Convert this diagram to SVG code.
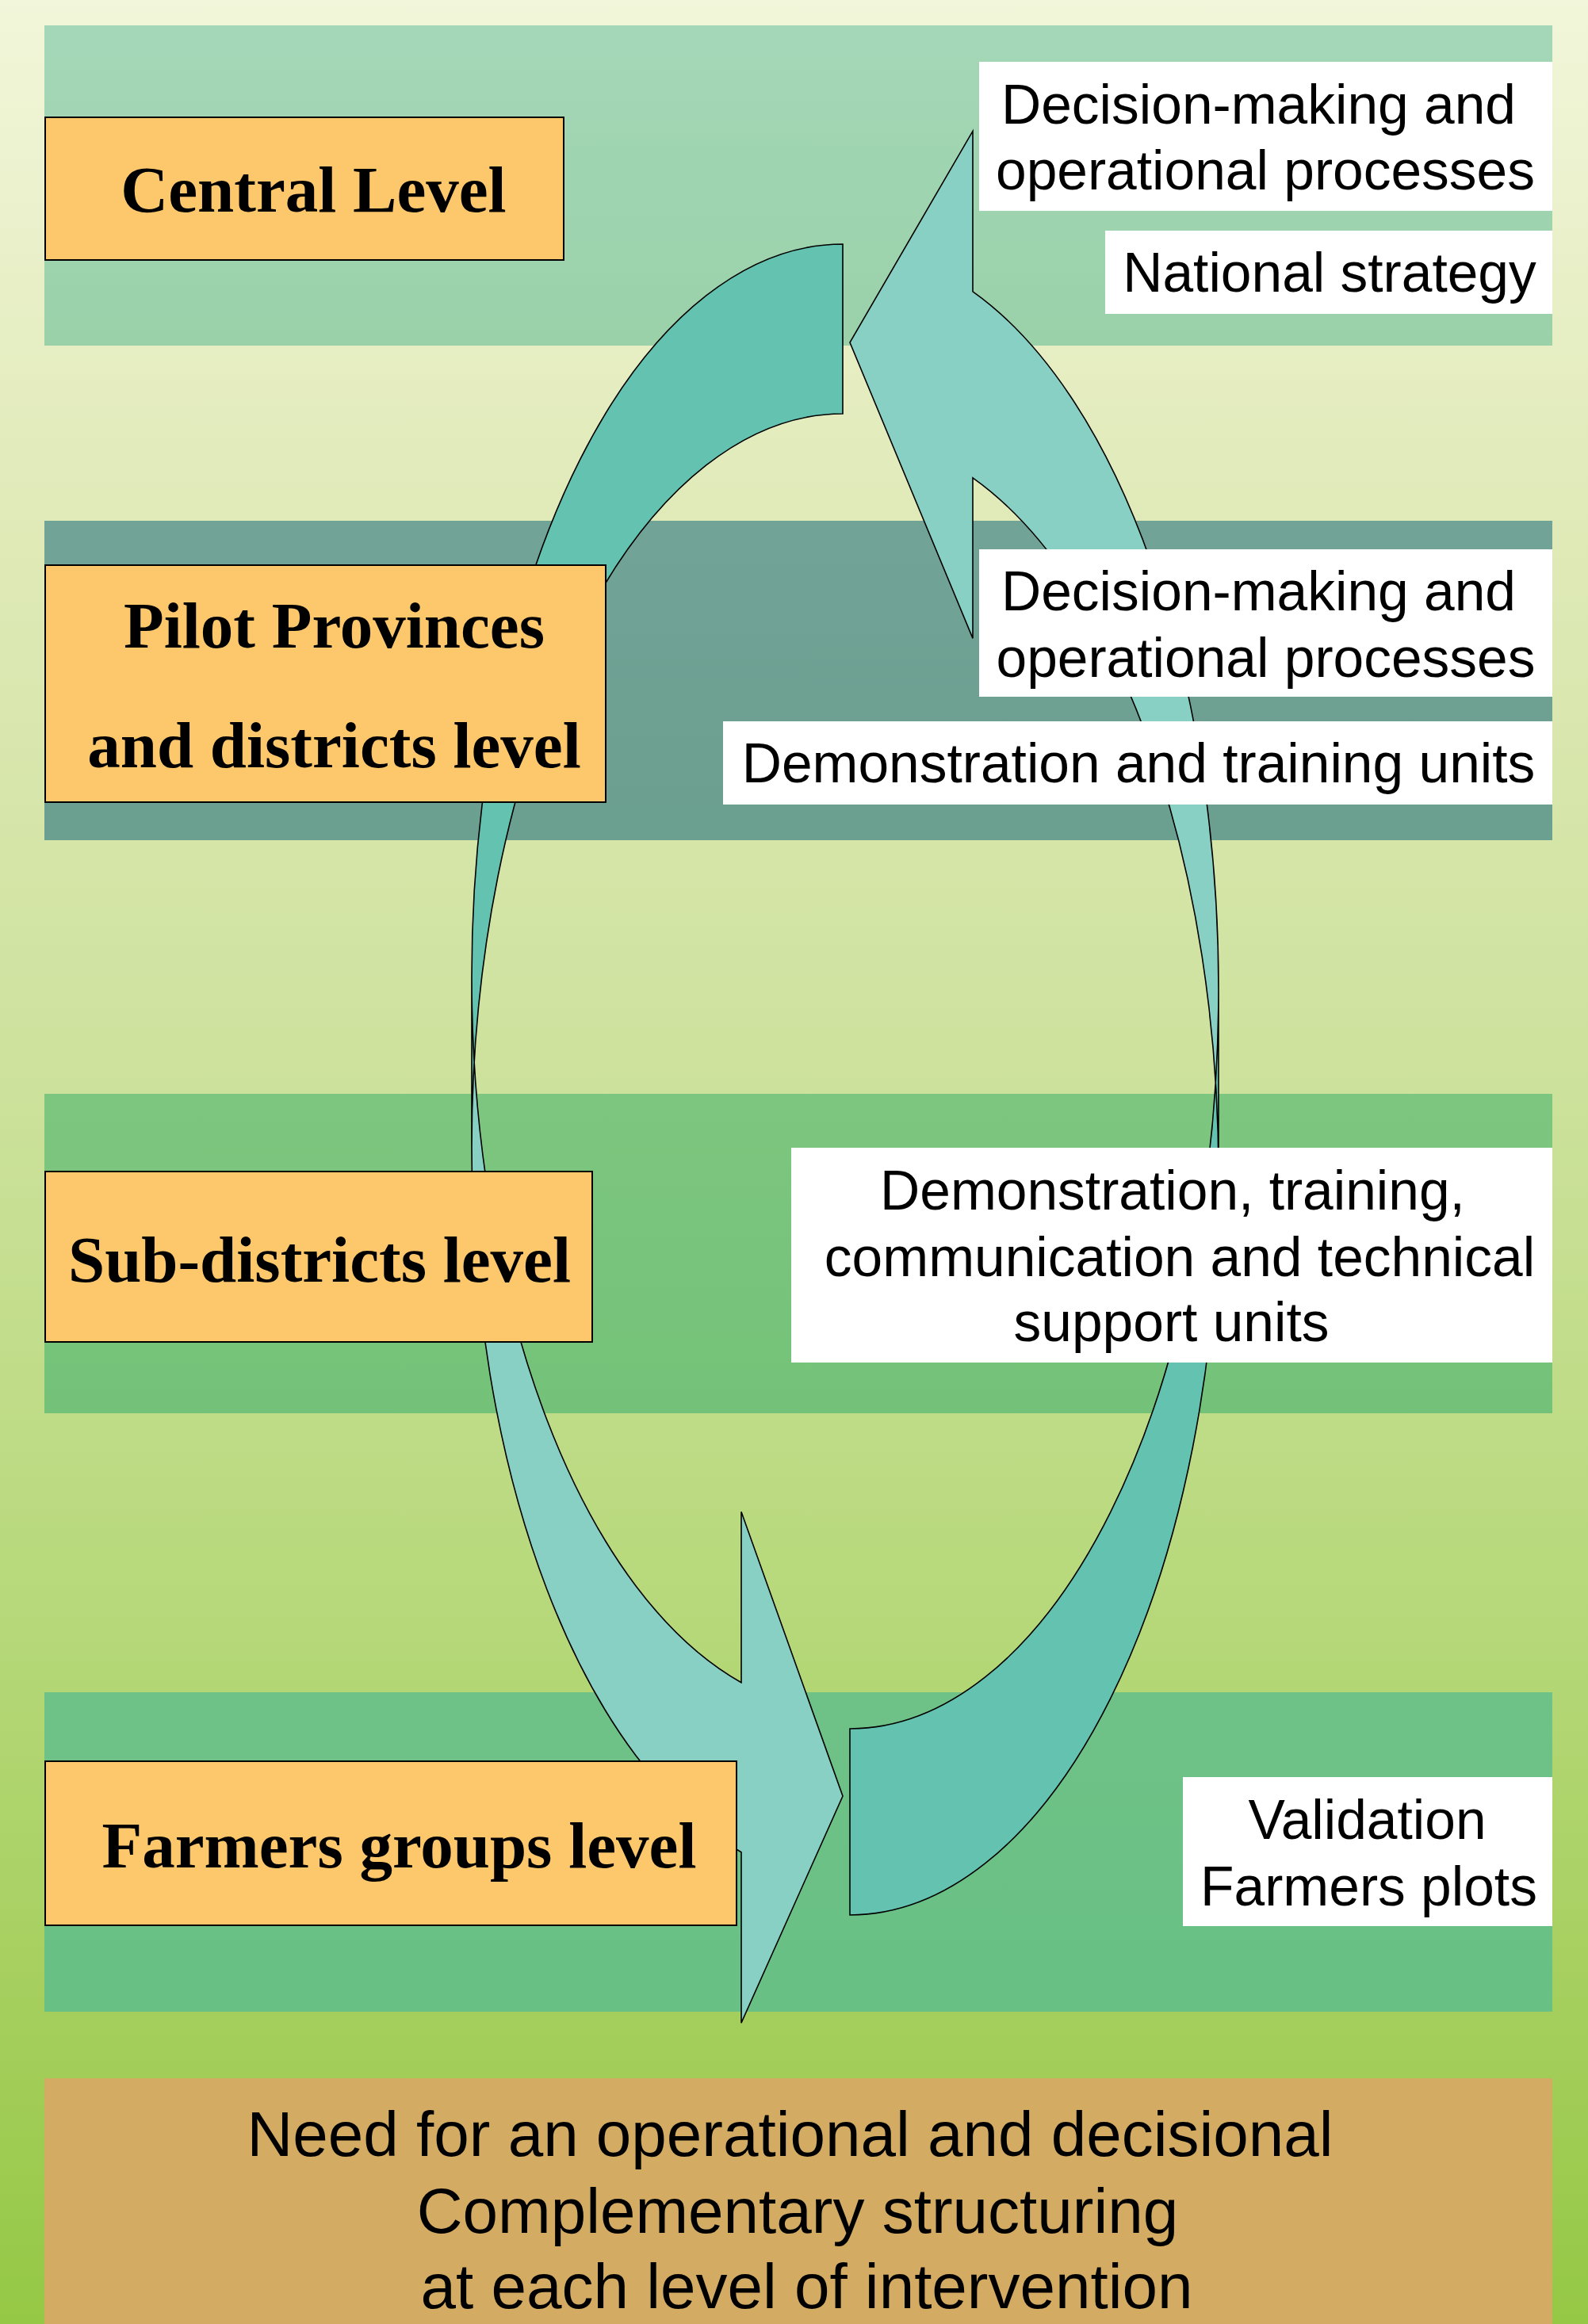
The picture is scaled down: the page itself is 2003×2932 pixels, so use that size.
<svg xmlns="http://www.w3.org/2000/svg" width="2003" height="2932" viewBox="0 0 2003 2932">
<defs>
<linearGradient id="bg" x1="0" y1="0" x2="0" y2="1">
<stop offset="0" stop-color="#f2f6da"/>
<stop offset="0.2" stop-color="#e2ebbb"/>
<stop offset="0.45" stop-color="#cee29e"/>
<stop offset="0.7" stop-color="#b6d879"/>
<stop offset="0.88" stop-color="#a3ce5a"/>
<stop offset="1" stop-color="#95c845"/>
</linearGradient>
<linearGradient id="b1" x1="0" y1="0" x2="0" y2="1"><stop offset="0" stop-color="#a4d7b7"/><stop offset="1" stop-color="#9ad1a9"/></linearGradient>
<linearGradient id="b2" x1="0" y1="0" x2="0" y2="1"><stop offset="0" stop-color="#72a397"/><stop offset="1" stop-color="#6b9f8f"/></linearGradient>
<linearGradient id="b3" x1="0" y1="0" x2="0" y2="1"><stop offset="0" stop-color="#7dc67f"/><stop offset="1" stop-color="#74c279"/></linearGradient>
<linearGradient id="b4" x1="0" y1="0" x2="0" y2="1"><stop offset="0" stop-color="#6fc287"/><stop offset="1" stop-color="#68c084"/></linearGradient>
</defs>
<style>
.lvl{fill:#fdc76c;stroke:#000;stroke-width:2}
.lbl{fill:#fff}
.light{fill:#89d0c4;stroke:none}
.dark{fill:#63c3b0;stroke:none}
.outline{fill:none;stroke:#000;stroke-width:1.6;stroke-linejoin:miter}
.st{font-family:"Liberation Serif","Times New Roman",serif;font-weight:bold;font-size:83px;fill:#000;text-anchor:middle}
.ss{font-family:"Liberation Sans",Arial,sans-serif;font-size:69.5px;fill:#000;text-anchor:middle}
.sb{font-family:"Liberation Sans",Arial,sans-serif;font-size:80px;fill:#000;text-anchor:middle}
</style>
<rect x="0" y="0" width="2003" height="2932" fill="url(#bg)"/>
<g id="bands">
<rect x="56" y="32" width="1902" height="404" fill="url(#b1)"/>
<rect x="56" y="657" width="1902" height="403" fill="url(#b2)"/>
<rect x="56" y="1380" width="1902" height="403" fill="url(#b3)"/>
<rect x="56" y="2135" width="1902" height="403" fill="url(#b4)"/>
</g>
<g id="connectors">
<g id="arrow-down">
<path class="light" d="M 595 1233 A 468 925 0 0 0 935 2122.7 L 935 1907.2 L 1063 2266 L 935 2552.2 L 935 2336.7 A 468 925 0 0 1 595 1447 Z"/>
<path class="dark" d="M 1063 522 A 468 925 0 0 0 595 1447 L 595 1233 A 468 925 0 0 1 1063 308 Z"/>
<path class="outline" d="M 595 1233 A 468 925 0 0 0 935 2122.7 L 935 1907.2 L 1063 2266 L 935 2552.2 L 935 2336.7 A 468 925 0 0 1 595 1447 L 595 1233 A 468 925 0 0 1 1063 308 L 1063 522 A 468 925 0 0 0 595 1447"/>
</g>
<g id="arrow-up">
<path class="light" d="M 1537 1482.75 A 465 933.25 0 0 0 1227 602.85 L 1227 805.35 L 1072 432 L 1227 165.35 L 1227 367.85 A 465 933.25 0 0 1 1537 1247.75 Z"/>
<path class="dark" d="M 1072 2181 A 465 933.25 0 0 0 1537 1247.75 L 1537 1482.75 A 465 933.25 0 0 1 1072 2416 Z"/>
<path class="outline" d="M 1537 1482.75 A 465 933.25 0 0 0 1227 602.85 L 1227 805.35 L 1072 432 L 1227 165.35 L 1227 367.85 A 465 933.25 0 0 1 1537 1247.75 L 1537 1482.75 A 465 933.25 0 0 1 1072 2416 L 1072 2181 A 465 933.25 0 0 0 1537 1247.75"/>
</g>
</g>
<g id="central-level">
<rect class="lvl" x="57" y="148" width="654" height="180"/>
<text class="st" x="395.5" y="267">Central Level</text>
</g>
<g id="pilot-level">
<rect class="lvl" x="57" y="713" width="707" height="299"/>
<text class="st" x="421.5" y="817">Pilot Provinces</text>
<text class="st" x="421.5" y="968">and districts level</text>
</g>
<g id="subdistricts-level">
<rect class="lvl" x="57" y="1478" width="690" height="215"/>
<text class="st" x="403" y="1617">Sub-districts level</text>
</g>
<g id="farmers-level">
<rect class="lvl" x="57" y="2222" width="872" height="207"/>
<text class="st" x="503.5" y="2356">Farmers groups level</text>
</g>
<g id="label-decision-central">
<rect class="lbl" x="1235" y="78" width="723" height="188"/>
<text class="ss" x="1587.5" y="156">Decision-making and</text>
<text class="ss" x="1596" y="239">operational processes</text>
</g>
<g id="label-national">
<rect class="lbl" x="1394" y="291" width="564" height="105"/>
<text class="ss" x="1677" y="368">National strategy</text>
</g>
<g id="label-decision-pilot">
<rect class="lbl" x="1235" y="693" width="723" height="186"/>
<text class="ss" x="1587.5" y="770">Decision-making and</text>
<text class="ss" x="1596.5" y="854">operational processes</text>
</g>
<g id="label-demo-training">
<rect class="lbl" x="912" y="910" width="1046" height="105"/>
<text class="ss" x="1436" y="987">Demonstration and training units</text>
</g>
<g id="label-demo-support">
<rect class="lbl" x="998" y="1448" width="960" height="271"/>
<text class="ss" x="1479" y="1526">Demonstration, training,</text>
<text class="ss" x="1488" y="1610">communication and technical</text>
<text class="ss" x="1477.5" y="1692">support units</text>
</g>
<g id="label-validation">
<rect class="lbl" x="1492" y="2242" width="466" height="188"/>
<text class="ss" x="1724.5" y="2320">Validation</text>
<text class="ss" x="1726.5" y="2404">Farmers plots</text>
</g>
<g id="need-box">
<rect x="56" y="2622" width="1902" height="310" fill="#d4ab63"/>
<text class="sb" x="996.5" y="2720">Need for an operational and decisional</text>
<text class="sb" x="1006" y="2817">Complementary structuring</text>
<text class="sb" x="1017.5" y="2912">at each level of intervention</text>
</g>
</svg>
